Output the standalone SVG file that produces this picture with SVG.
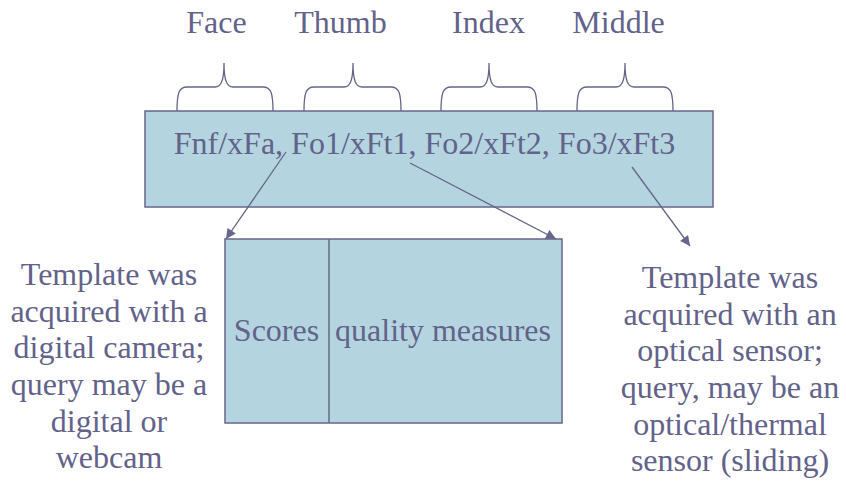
<svg xmlns="http://www.w3.org/2000/svg" width="846" height="483" viewBox="0 0 846 483">
<style>
text{font-family:"Liberation Serif","Times New Roman",serif;fill:#62628A;font-size:32px;text-anchor:middle}
.box{fill:#B4D5DF;stroke:#66668A;stroke-width:1.5}
.brace{fill:none;stroke:#66668A;stroke-width:1.3}
.arr{stroke:#66668A;stroke-width:1.3;fill:none;marker-end:url(#ah)}
</style>
<defs>
<marker id="ah" viewBox="0 0 10 10" refX="10" refY="5" markerWidth="11" markerHeight="10" markerUnits="userSpaceOnUse" orient="auto">
<path d="M0,0 L10,5 L0,10 z" fill="#66668A"/>
</marker>
</defs>
<g id="labels">
<text x="216.5" y="33">Face</text>
<text x="340.5" y="33">Thumb</text>
<text x="488.5" y="33">Index</text>
<text x="618.5" y="33">Middle</text>
</g>
<g id="braces">
<path class="brace" d="M177,111 C177,93 179,87 187,87 L215,87 C221,87 224,81 224,63 C224,81 227,87 233,87 L263,87 C271,87 273,93 273,111"/>
<path class="brace" d="M304,111 C304,93 306,87 314,87 L344,87 C350,87 353,81 353,63 C353,81 356,87 362,87 L391,87 C399,87 401,93 401,111"/>
<path class="brace" d="M441,111 C441,93 443,87 451,87 L480,87 C486,87 489,81 489,63 C489,81 492,87 498,87 L527,87 C535,87 537,93 537,111"/>
<path class="brace" d="M577,111 C577,93 579,87 587,87 L616,87 C622,87 625,81 625,63 C625,81 628,87 634,87 L663,87 C671,87 673,93 673,111"/>
</g>
<g id="template">
<rect class="box" x="145" y="111" width="568" height="96"/>
<text x="424.5" y="154">Fnf/xFa, Fo1/xFt1, Fo2/xFt2, Fo3/xFt3</text>
</g>
<g id="record">
<rect class="box" x="225" y="239" width="337" height="184"/>
<line x1="329" y1="239" x2="329" y2="423" stroke="#66668A" stroke-width="1.5"/>
<text x="276.5" y="341">Scores</text>
<text x="443" y="341">quality measures</text>
</g>
<g id="connectors">
<line class="arr" x1="286" y1="152" x2="226" y2="239"/>
<line class="arr" x1="410" y1="163" x2="556" y2="239"/>
<line class="arr" x1="632" y1="167" x2="690" y2="246"/>
</g>
<g id="left-note">
<text x="109" y="285">Template was</text>
<text x="109" y="322">acquired with a</text>
<text x="109" y="358">digital camera;</text>
<text x="109" y="395">query may be a</text>
<text x="109" y="432">digital or</text>
<text x="109" y="468">webcam</text>
</g>
<g id="right-note">
<text x="730" y="288">Template was</text>
<text x="730" y="325">acquired with an</text>
<text x="730" y="361">optical sensor;</text>
<text x="730" y="398">query, may be an</text>
<text x="730" y="435">optical/thermal</text>
<text x="730" y="471">sensor (sliding)</text>
</g>
</svg>
